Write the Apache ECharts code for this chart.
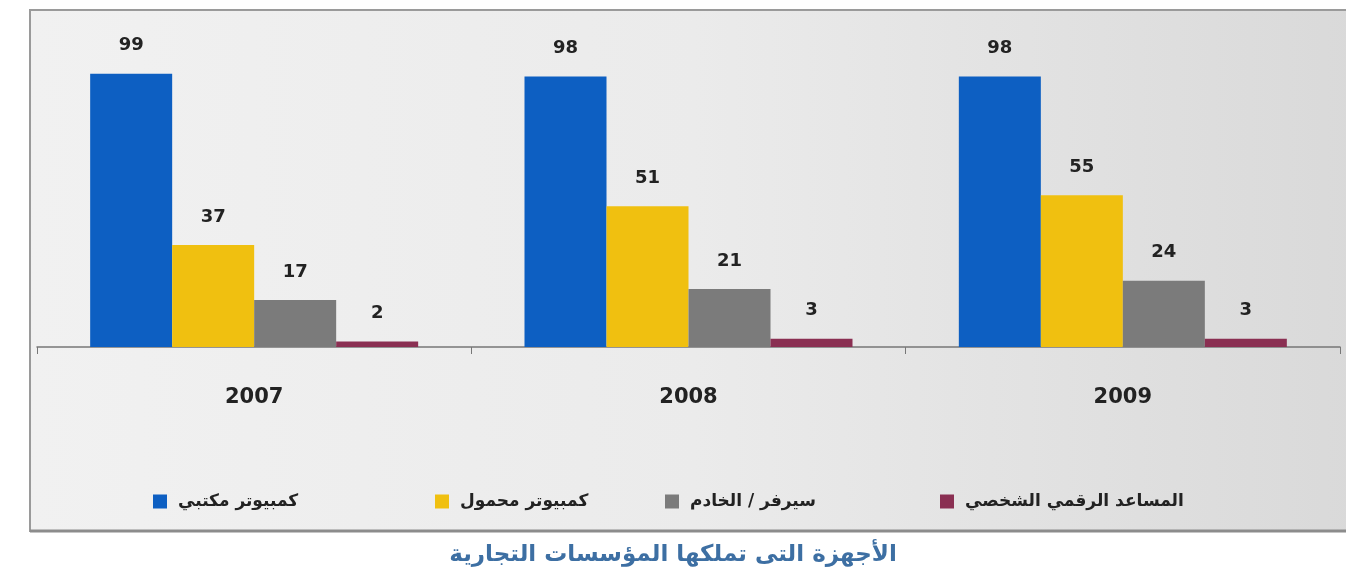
<!DOCTYPE html>
<html><head><meta charset="utf-8">
<script src="https://cdn.jsdelivr.net/npm/echarts@6/dist/echarts.min.js"></script>
<style>html,body{margin:0;padding:0;background:#fff}#c{width:1346px;height:579px}</style>
</head><body><div id="c"></div>
<script>
const years = ['2007', '2008', '2009'];
const seriesNames = ['كمبيوتر مكتبي', 'كمبيوتر محمول', 'سيرفر / الخادم', 'المساعد الرقمي الشخصي'];
const desktop = [99, 98, 98];
const laptop = [37, 51, 55];
const server = [17, 21, 24];
const pda = [2, 3, 3];
const chartTitle = 'الأجهزة التى تملكها المؤسسات التجارية';

const colors = ['#0d5fc2', '#f0c010', '#7b7b7b', '#8a2f52'];
const values = [desktop, laptop, server, pda];
const legendLeft = [148, 430, 660, 935];
const font = 'DejaVu Sans';

const chart = echarts.init(document.getElementById('c'));
chart.setOption({
  animation: false,
  textStyle: { fontFamily: font },
  graphic: [
    { type: 'rect', z: -10, shape: { x: 30, y: 10, width: 1330, height: 521 },
      style: { fill: new echarts.graphic.LinearGradient(0, 0, 1, 0, [
        { offset: 0, color: '#f1f1f1' }, { offset: 0.5, color: '#ebebeb' }, { offset: 1, color: '#d9d9d9' }]),
        stroke: '#9a9a9a', lineWidth: 2 } },
    { type: 'line', z: -9, shape: { x1: 30, y1: 531, x2: 1346, y2: 531 }, style: { stroke: '#8c8c8c', lineWidth: 3 } }
  ],
  title: { text: chartTitle, left: 'center', top: 539,
    textStyle: { color: '#3d6fa3', fontSize: 23, fontWeight: 'bold', fontFamily: font } },
  legend: seriesNames.map((n, i) => ({
    data: [n], left: legendLeft[i], top: 488, itemWidth: 14, itemHeight: 14, itemGap: 8,
    icon: 'rect', textStyle: { fontSize: 17, fontWeight: 'bold', color: '#222', fontFamily: font, padding: [0, 0, 0, 6] }
  })),
  grid: { left: 37, right: 6, top: 71, bottom: 232 },
  xAxis: { type: 'category', data: years,
    axisLine: { lineStyle: { color: '#777', width: 1.5 } },
    axisTick: { show: true, length: 7, lineStyle: { color: '#777' } },
    axisLabel: { margin: 40, fontSize: 21, fontWeight: 'bold', color: '#222', fontFamily: font } },
  yAxis: { type: 'value', min: 0, max: 100, show: false, splitLine: { show: false } },
  series: seriesNames.map((n, i) => ({
    name: n, type: 'bar', data: values[i], barWidth: 82, barGap: '0%',
    itemStyle: { color: colors[i] },
    label: { show: true, position: 'top', distance: 19, fontSize: 18, fontWeight: 'bold', color: '#222', fontFamily: font }
  }))
});
</script></body></html>
